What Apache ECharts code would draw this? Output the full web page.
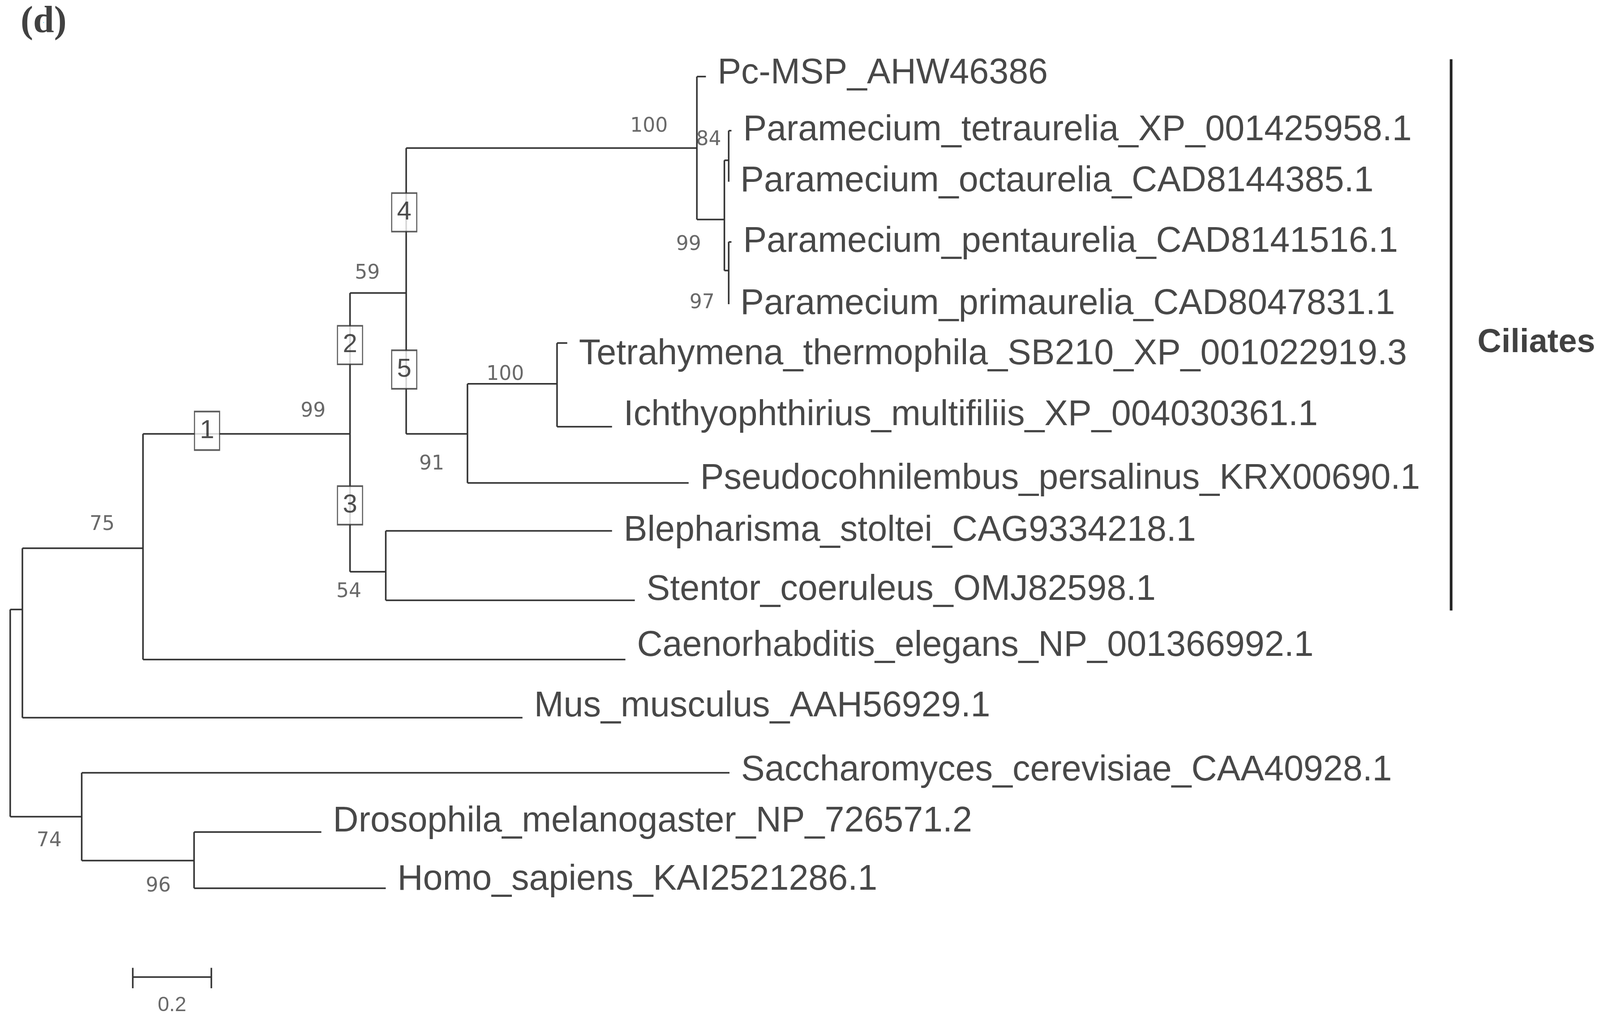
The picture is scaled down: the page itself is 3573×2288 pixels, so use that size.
<!DOCTYPE html>
<html>
<head>
<meta charset="utf-8">
<script src="https://cdn.jsdelivr.net/npm/echarts@6/dist/echarts.min.js"></script>
<style>html,body{margin:0;background:#fff}#chart{width:3573px;height:2288px}</style>
</head>
<body>
<div id="chart"></div>
<script>
// tree nodes: depth in substitutions/site, row = vertical position of the node
const nodeNames = ['root','A','B','C','D','F','I','J','L','G','H','E','K','M',
  'Pc-MSP_AHW46386','Paramecium_tetraurelia_XP_001425958.1','Paramecium_octaurelia_CAD8144385.1',
  'Paramecium_pentaurelia_CAD8141516.1','Paramecium_primaurelia_CAD8047831.1',
  'Tetrahymena_thermophila_SB210_XP_001022919.3','Ichthyophthirius_multifiliis_XP_004030361.1',
  'Pseudocohnilembus_persalinus_KRX00690.1','Blepharisma_stoltei_CAG9334218.1',
  'Stentor_coeruleus_OMJ82598.1','Caenorhabditis_elegans_NP_001366992.1','Mus_musculus_AAH56929.1',
  'Saccharomyces_cerevisiae_CAA40928.1','Drosophila_melanogaster_NP_726571.2','Homo_sapiens_KAI2521286.1'];
const nodeParents = [null,'root','A','B','C','D','F','I','I','D','G','C','root','K',
  'F','J','J','L','L','H','H','G','E','E','B','A','K','M','M'];
const nodeDepth = [0,0.031,0.338,0.865,1.008,1.748,1.818,1.829,1.829,1.164,1.392,0.956,0.182,0.468,
  1.771,1.836,1.829,1.836,1.829,1.418,1.532,1.727,1.532,1.590,1.566,1.304,1.831,0.792,0.956];
const nodeRow = [597,597,537,425,287,145,215,157,265,425,376,560,800,843,
  75,128,178,237,298,336,418,473,520,588,646,703,757,815,870];
const labelRow = [null,null,null,null,null,null,null,null,null,null,null,null,null,null,
  72,128,178,237,298,347,407,469,520,578,633,692,755,805,862];

const bootText = ['100','84','99','97','59','99','75','100','91','54','74','96'];
const bootDepth = [1.626,1.778,1.727,1.761,0.909,0.771,0.234,1.260,1.073,0.862,0.099,0.377];
const bootRow = [124,137,240,297,268,403,514,367,455,580,824,868];

const boxText = ['1','2','3','4','5'];
const boxDepth = [0.501,0.865,0.865,1.003,1.003];
const boxRow = [422,338,495,208,362];

const scaleBar = 0.2;

const idx = {};
nodeNames.forEach((n, i) => { idx[n] = i; });
const segs = [];
nodeNames.forEach((n, i) => {
  const p = nodeParents[i];
  if (p !== null) segs.push([nodeDepth[idx[p]], nodeRow[i], nodeDepth[i], nodeRow[i]]);
  const kids = nodeNames.map((_, j) => j).filter(j => nodeParents[j] === n);
  if (kids.length) {
    const ys = kids.map(j => nodeRow[j]);
    segs.push([nodeDepth[i], Math.min(...ys), nodeDepth[i], Math.max(...ys)]);
  }
});
// scale bar and ciliate bracket
segs.push([0.312, 957, 0.312 + scaleBar, 957]);
segs.push([0.312, 948, 0.312, 968]);
segs.push([0.312 + scaleBar, 948, 0.312 + scaleBar, 968]);

const tips = nodeNames.map((n, i) => i).filter(i => labelRow[i] !== null)
  .map(i => ({ value: [nodeDepth[i], labelRow[i]], name: nodeNames[i] }));

const chart = echarts.init(document.getElementById('chart'));
chart.setOption({
  animation: false,
  grid: { left: 0, right: 0, top: 0, bottom: 0 },
  xAxis: { type: 'value', min: -0.026, max: 4.047, show: false },
  yAxis: { type: 'value', min: 0, max: 1004, inverse: true, show: false },
  series: [
    {
      type: 'custom',
      data: segs,
      renderItem: (params, api) => {
        const a = api.coord([api.value(0), api.value(1)]);
        const b = api.coord([api.value(2), api.value(3)]);
        return { type: 'line', shape: { x1: a[0], y1: a[1], x2: b[0], y2: b[1] },
          style: { stroke: '#333', lineWidth: 3.5 } };
      }
    },
    {
      type: 'custom',
      data: [[3.668, 58, 3.668, 598]],
      renderItem: (params, api) => {
        const a = api.coord([api.value(0), api.value(1)]);
        const b = api.coord([api.value(2), api.value(3)]);
        return { type: 'line', shape: { x1: a[0], y1: a[1], x2: b[0], y2: b[1] },
          style: { stroke: '#222', lineWidth: 6 } };
      }
    },
    {
      type: 'scatter', symbolSize: 0, data: tips,
      label: { show: true, position: 'right', distance: 26, formatter: p => p.name,
        fontFamily: 'Liberation Sans', fontSize: 79, color: '#1a1a1a' }
    },
    {
      type: 'scatter', symbolSize: 0,
      data: bootText.map((t, i) => ({ value: [bootDepth[i], bootRow[i]], name: t })),
      label: { show: true, position: 'inside', formatter: p => p.name,
        fontFamily: 'DejaVu Sans', fontSize: 44, color: '#444' }
    },
    {
      type: 'scatter', symbol: 'rect', symbolSize: [56, 86],
      itemStyle: { color: '#fff', borderColor: '#333', borderWidth: 3 },
      data: boxText.map((t, i) => ({ value: [boxDepth[i], boxRow[i]], name: t })),
      label: { show: true, position: 'inside', formatter: p => p.name,
        fontFamily: 'Liberation Sans', fontSize: 58, color: '#222' }
    },
    {
      type: 'scatter', symbolSize: 0,
      data: [{ value: [0.412, 985], name: '0.2' }, { value: [3.885, 336], name: 'Ciliates' },
        { value: [0.085, 22], name: '(d)' }],
      label: { show: true, position: 'inside', formatter: p => p.name,
        rich: {}, fontFamily: 'Liberation Sans', fontSize: 46, color: '#444' }
    }
  ]
});
chart.setOption({ series: [{}, {}, {}, {}, {}, {
  data: [
    { value: [0.412, 985], name: '0.2' },
    { value: [3.885, 336], name: 'Ciliates', label: { fontSize: 74, fontWeight: 'bold', color: '#111' } },
    { value: [0.085, 22], name: '(d)', label: { fontFamily: 'Liberation Serif', fontSize: 84, fontWeight: 'bold', color: '#111' } }
  ]
}] });
</script>
</body>
</html>
